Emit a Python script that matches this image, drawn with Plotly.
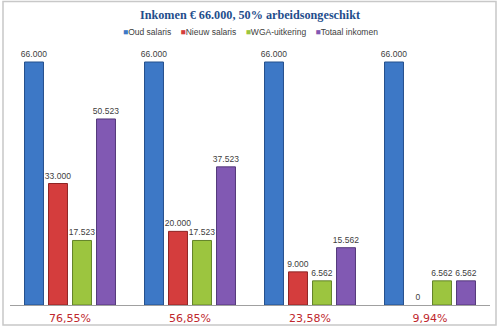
import plotly.graph_objects as go

# Income scenarios (EUR), 50% incapacity for work
categories = ["76,55%", "56,85%", "23,58%", "9,94%"]
oud_salaris = [66000, 66000, 66000, 66000]
nieuw_salaris = [33000, 20000, 9000, 0]
wga_uitkering = [17523, 17523, 6562, 6562]
totaal_inkomen = [50523, 37523, 15562, 6562]

series = [
    ("Oud salaris", oud_salaris, "#3D78C6", "#24508C"),
    ("Nieuw salaris", nieuw_salaris, "#D43D3D", "#8E2424"),
    ("WGA-uitkering", wga_uitkering, "#9CC53F", "#63832A"),
    ("Totaal inkomen", totaal_inkomen, "#8159B3", "#54397A"),
]


def fmt(v):
    return f"{v:,}".replace(",", ".")


fig = go.Figure()
for name, vals, color, edge in series:
    fig.add_trace(go.Bar(
        name=name,
        x=categories,
        y=vals,
        marker=dict(
            color=color,
            line=dict(color=edge, width=[1 if v else 0 for v in vals]),
        ),
        text=[fmt(v) for v in vals],
        textposition="outside",
        constraintext="none",
        cliponaxis=False,
        textfont=dict(family="Liberation Sans", size=8.5, color="#404040"),
        showlegend=False,
    ))

L, R, T, B = 10, 10, 50, 24
W, H = 500, 329
pw, ph = W - L - R, H - T - B

# compact legend: coloured squares followed by the series names
legend_text = "    ".join(
    f"<span style='color:{color}'>■</span>{name}" for name, _, color, _ in series
)

fig.update_layout(
    width=W,
    height=H,
    margin=dict(l=L, r=R, t=T, b=B, autoexpand=False),
    paper_bgcolor="white",
    plot_bgcolor="white",
    barmode="group",
    bargap=0.2,
    bargroupgap=0.21,
    title=dict(
        text="<b>Inkomen € 66.000, 50% arbeidsongeschikt</b>",
        x=0.5, xanchor="center", y=1 - 15 / H, yanchor="middle",
        font=dict(family="Liberation Serif", size=12.2, color="#1F4E8C"),
    ),
    xaxis=dict(
        showgrid=False, showline=True, linecolor="#A0A0A0", linewidth=1,
        ticks="", ticklabelstandoff=3, automargin=False,
        tickfont=dict(family="DejaVu Sans", size=11, color="#C0272D"),
        fixedrange=True,
    ),
    yaxis=dict(
        visible=False, range=[0, 66000 * ph / 243], fixedrange=True,
        automargin=False,
    ),
    annotations=[dict(
        text=legend_text, xref="paper", yref="paper",
        x=0.5, xanchor="center", y=1 + (T - 32) / ph, yanchor="middle",
        showarrow=False,
        font=dict(family="Liberation Sans", size=8.5, color="#404040"),
    )],
)

# light grey frame around the chart
fig.add_shape(
    type="rect", xref="paper", yref="paper",
    x0=(3 - L) / pw, x1=(496 - L) / pw,
    y0=(H - B - 325) / ph, y1=(H - B - 1.5) / ph,
    line=dict(color="#C8C8C8", width=1.5), fillcolor="rgba(0,0,0,0)",
    layer="below",
)

fig.write_html("out.html")
